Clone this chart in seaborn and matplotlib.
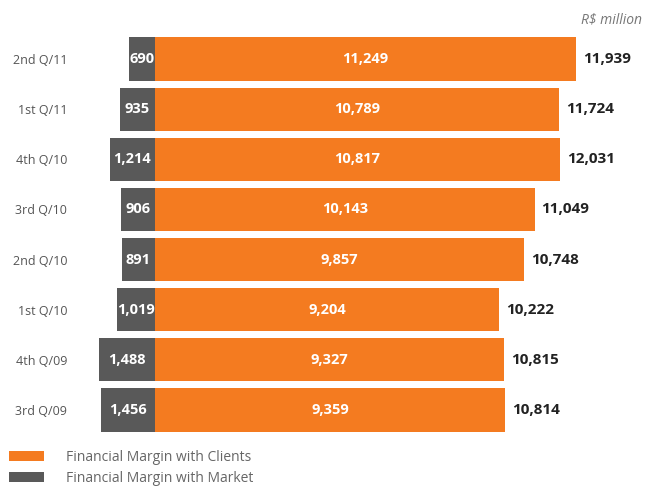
import matplotlib
matplotlib.use("Agg")
import matplotlib.pyplot as plt
import seaborn as sns
import pandas as pd

quarters = ["2nd Q/11", "1st Q/11", "4th Q/10", "3rd Q/10", "2nd Q/10", "1st Q/10", "4th Q/09", "3rd Q/09"]
clients = [11249, 10789, 10817, 10143, 9857, 9204, 9327, 9359]
market = [690, 935, 1214, 906, 891, 1019, 1488, 1456]
totals = [11939, 11724, 12031, 11049, 10748, 10222, 10815, 10814]

ORANGE = "#F47B20"
GRAY = "#595959"

sns.set_style("white")
plt.rcParams["font.family"] = ["Open Sans", "DejaVu Sans"]

df = pd.DataFrame({"quarter": quarters, "clients": clients,
                   "market_neg": [-m for m in market]})

fig = plt.figure(figsize=(6.55, 4.86), dpi=100)
ax = fig.add_axes([90 / 655, 0.1047, 565 / 655, 0.8255])

sns.barplot(data=df, x="clients", y="quarter", orient="h", color=ORANGE,
            width=0.86, saturation=1, linewidth=0, ax=ax,
            label="Financial Margin with Clients")
sns.barplot(data=df, x="market_neg", y="quarter", orient="h", color=GRAY,
            width=0.86, saturation=1, linewidth=0, ax=ax,
            label="Financial Margin with Market")

c_cont, m_cont = ax.containers[0], ax.containers[1]
ax.bar_label(c_cont, labels=[f"{v:,}" for v in clients], label_type="center",
             color="white", fontweight="bold", fontsize=10.5)
ax.bar_label(m_cont, labels=[f"{v:,}" for v in market], label_type="center",
             color="white", fontweight="bold", fontsize=10.5)
ax.bar_label(c_cont, labels=[f"{v:,}" for v in totals], label_type="edge",
             padding=5, color="#222222", fontweight="bold", fontsize=11)

ax.set_xlim(-1737, 13360)
ax.set_ylim(7.5, -0.5)
ax.set_xlabel("")
ax.set_ylabel("")
ax.set_xticks([])
ax.tick_params(axis="y", length=0, pad=16.5, labelsize=9, labelcolor="#555555")
for s in ax.spines.values():
    s.set_visible(False)

handles, labels = ax.get_legend_handles_labels()
if ax.legend_:
    ax.legend_.remove()
fig.legend(handles, labels, loc="upper left", bbox_to_anchor=(9 / 655, 1 - 450 / 486),
           frameon=False, borderpad=0, borderaxespad=0, fontsize=10,
           handlelength=2.5, handleheight=0.72, handletextpad=1.6,
           labelspacing=0.45, labelcolor="#666666")

fig.text(642 / 655, 1 - 20 / 486, "R$ million", ha="right", va="center",
         style="italic", fontsize=10, color="#777777")

fig.savefig("out.png", dpi=100)
